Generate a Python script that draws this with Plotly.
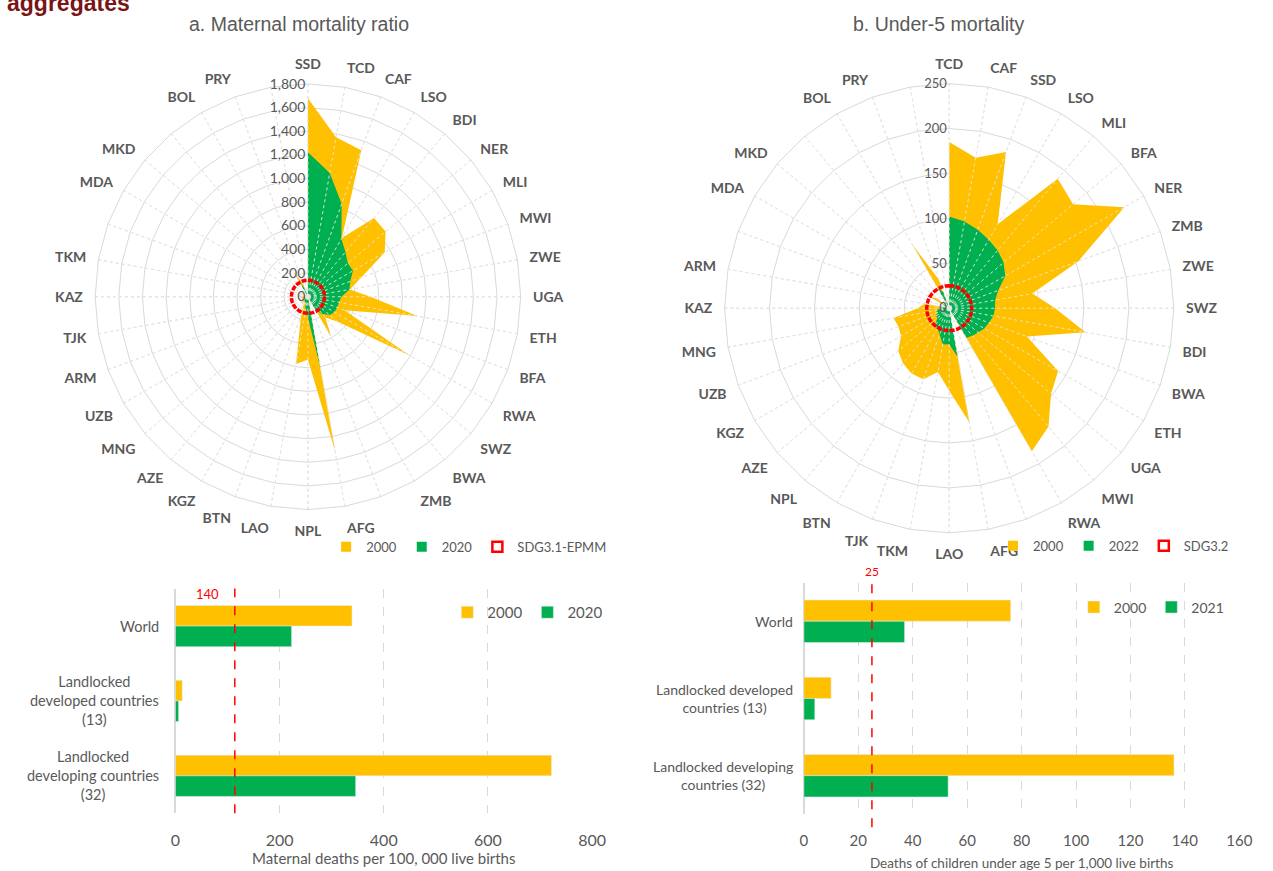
import plotly.graph_objects as go

W, H = 1273, 871

# ---------------- data: panel a (maternal mortality ratio, radar) ----------------
mmr_countries = ["SSD", "TCD", "CAF", "LSO", "BDI", "NER", "MLI", "MWI", "ZWE", "UGA", "ETH", "BFA",
                 "RWA", "SWZ", "BWA", "ZMB", " ", "AFG", "NPL", "LAO", "BTN", "KGZ", "AZE", "MNG",
                 "UZB", "ARM", "TJK", "KAZ", "TKM", "  ", "MDA", "MKD", "   ", "BOL", "PRY", "    "]
mmr_2000 = [1680, 1370, 1320, 575, 870, 858, 750, 480, 360, 530, 940, 330,
            990, 330, 230, 395, 0, 1330, 530, 578, 170, 70, 55, 85,
            40, 40, 60, 65, 30, 0, 40, 12, 0, 260, 110, 0]
mmr_2020 = [1223, 1063, 835, 566, 494, 441, 440, 381, 357, 284, 267, 264,
            259, 240, 186, 135, 0, 620, 174, 126, 60, 50, 41, 39,
            30, 27, 17, 13, 5, 0, 12, 3, 0, 161, 71, 0]
mmr_target = 140
mmr_rmax = 1800

# ---------------- data: panel b (under-5 mortality, radar) ----------------
u5_countries = ["TCD", "CAF", "SSD", "LSO", "MLI", "BFA", "NER", "ZMB", "ZWE", "SWZ", "BDI", "BWA",
                "ETH", "UGA", "MWI", "RWA", " ", "AFG", "LAO", "TKM", "TJK", "BTN", "NPL", "AZE",
                "KGZ", "UZB", "MNG", "KAZ", "ARM", "  ", "MDA", "MKD", "   ", "BOL", "PRY", "    "]
u5_2000 = [185, 170, 185, 108, 188, 180, 225, 153, 94, 118, 154, 92,
           140, 148, 172, 184, 0, 129, 92, 72, 84, 84, 80, 74,
           62, 60, 63, 35, 28, 0, 30, 16, 0, 82, 34, 0]
u5_2022 = [102, 98, 93, 88, 84, 79, 72, 58, 52, 51, 50, 47,
           45, 42, 40, 38, 0, 55, 40, 41, 31, 26, 25, 17,
           17, 14, 15, 9, 11, 0, 14, 5, 0, 26, 19, 0]
u5_target = 25
u5_rmax = 250

# ---------------- data: aggregates (bars) ----------------
agg_groups = ["World", "Landlocked developed countries (13)", "Landlocked developing countries (32)"]
agg_labels_left = ["World", "Landlocked<br>developed countries<br>(13)", "Landlocked<br>developing countries<br>(32)"]
agg_labels_right = ["World", "Landlocked developed<br>countries (13)", "Landlocked developing<br>countries (32)"]
mmr_agg_2000 = [339, 13, 722]
mmr_agg_2020 = [223, 6, 346]
u5_agg_2000 = [76, 10, 136]
u5_agg_2021 = [37, 4, 53]
mmr_line_label = "140"
mmr_line_pos = 114
u5_line_label = "25"
u5_line_pos = 25

YELLOW = "#FFC000"
GREEN = "#00B050"
RED = "#FF0000"
GRID = "#D9D9D9"
TXT = "#595959"
FONT = "Lato"


def px_x(x):
    return x / W


def px_y(y):
    return 1 - y / H


fig = go.Figure()


def add_radar(subplot, cats, s2000, s_new, name_new, target, target_name, rmax, legend):
    closed = cats + [cats[0]]
    fig.add_trace(go.Scatterpolar(r=s2000 + [s2000[0]], theta=closed, subplot=subplot, mode="none",
                                  fill="toself", fillcolor=YELLOW, showlegend=False, name="2000"))
    fig.add_trace(go.Scatterpolar(r=s_new + [s_new[0]], theta=closed, subplot=subplot, mode="none",
                                  fill="toself", fillcolor=GREEN, showlegend=False, name=name_new))
    # spokes drawn over the filled areas (dotted, as in the original)
    sr, st = [], []
    for c in cats:
        sr += [0, rmax, None]
        st += [c, c, None]
    fig.add_trace(go.Scatterpolar(r=sr, theta=st, subplot=subplot, mode="lines",
                                  line=dict(color="rgba(232,232,232,0.9)", width=1, dash="dot"),
                                  showlegend=False, hoverinfo="skip"))
    fig.add_trace(go.Scatterpolar(r=[target] * len(closed), theta=closed, subplot=subplot, mode="lines",
                                  line=dict(color=RED, width=3.5, dash="5px,1.5px"),
                                  showlegend=False, name=target_name))
    fig.add_trace(go.Scatterpolar(r=[0], theta=[cats[0]], subplot=subplot, mode="markers",
                                  marker=dict(color="black", size=9), showlegend=False))
    # legend entries
    for nm, col, line in [("2000", YELLOW, None), (name_new, GREEN, None), (target_name, "white", RED)]:
        fig.add_trace(go.Scatterpolar(r=[None], theta=[None], subplot=subplot, mode="markers", name=nm,
                                      marker=dict(symbol="square", size=10, color=col,
                                                  line=dict(color=line or col, width=2.5 if line else 0)),
                                      legend=legend))


add_radar("polar", mmr_countries, mmr_2000, mmr_2020, "2020", mmr_target, "SDG3.1-EPMM", mmr_rmax, "legend3")
add_radar("polar2", u5_countries, u5_2000, u5_2022, "2022", u5_target, "SDG3.2", u5_rmax, "legend4")

# bars
fig.add_trace(go.Bar(y=agg_groups, x=mmr_agg_2000, orientation="h", name="2000", marker_color=YELLOW,
                     xaxis="x", yaxis="y", legend="legend"))
fig.add_trace(go.Bar(y=agg_groups, x=mmr_agg_2020, orientation="h", name="2020", marker_color=GREEN,
                     xaxis="x", yaxis="y", legend="legend"))
fig.add_trace(go.Bar(y=agg_groups, x=u5_agg_2000, orientation="h", name="2000", marker_color=YELLOW,
                     xaxis="x2", yaxis="y2", legend="legend2"))
fig.add_trace(go.Bar(y=agg_groups, x=u5_agg_2021, orientation="h", name="2021", marker_color=GREEN,
                     xaxis="x2", yaxis="y2", legend="legend2"))


def polar_layout(cx, cy, rad, rmax, dtick, fmt, tsize):
    return dict(
        domain=dict(x=[px_x(cx - rad), px_x(cx + rad)], y=[px_y(cy + rad), px_y(cy - rad)]),
        bgcolor="white",
        gridshape="linear",
        angularaxis=dict(type="category", rotation=90, direction="clockwise",
                         showgrid=True, gridcolor=GRID, griddash="dot", gridwidth=1,
                         showline=True, linecolor=GRID, linewidth=1,
                         ticks="outside", ticklen=9, tickcolor="rgba(0,0,0,0)",
                         tickfont=dict(family=FONT, size=14, color=TXT, weight="bold")),
        radialaxis=dict(range=[0, rmax], dtick=dtick, tickformat=fmt, angle=90, tickangle=90,
                        showline=False, showgrid=True, gridcolor=GRID, gridwidth=1, ticks="",
                        side="counterclockwise",
                        tickfont=dict(family=FONT, size=tsize, color=TXT)),
    )


fig.update_layout(
    height=H, autosize=True,
    margin=dict(l=0, r=0, t=0, b=0),
    paper_bgcolor="white", plot_bgcolor="white",
    font=dict(family=FONT, color=TXT),
    polar=polar_layout(307.5, 298.5, 216, mmr_rmax, 200, ",", 14),
    polar2=polar_layout(958.5, 310, 228, u5_rmax, 50, "d", 13),
    barmode="group", bargap=0.45, bargroupgap=0,
    xaxis=dict(domain=[px_x(173), px_x(596)], range=[0, 800], dtick=200, anchor="y",
               showgrid=True, gridcolor=GRID, griddash="dash", zeroline=True, zerolinecolor=GRID,
               showline=False, ticks="", tickfont=dict(size=16, color=TXT), ticklabelstandoff=16,
               title=dict(text="Maternal deaths per 100, 000 live births", font=dict(size=15, color=TXT),
                          standoff=4)),
    yaxis=dict(domain=[px_y(818), px_y(592)], autorange="reversed", anchor="x",
               showticklabels=False, showgrid=False, zeroline=False, ticks=""),
    xaxis2=dict(domain=[px_x(811), px_x(1253)], range=[0, 160], dtick=20, anchor="y2",
                showgrid=True, gridcolor=GRID, griddash="dash", zeroline=True, zerolinecolor=GRID,
                showline=False, ticks="", tickfont=dict(size=15, color=TXT), ticklabelstandoff=16,
                title=dict(text="Deaths of children under age 5 per 1,000 live births",
                           font=dict(size=13.5, color=TXT), standoff=12)),
    yaxis2=dict(domain=[px_y(819), px_y(586)], autorange="reversed", anchor="x2",
                showticklabels=False, showgrid=False, zeroline=False, ticks=""),
    legend=dict(orientation="h", x=px_x(449), y=px_y(616), xanchor="left", yanchor="middle",
                font=dict(size=15, color=TXT), bgcolor="rgba(0,0,0,0)", itemwidth=30),
    legend2=dict(orientation="h", x=px_x(1085), y=px_y(611), xanchor="left", yanchor="middle",
                 font=dict(size=14, color=TXT), bgcolor="rgba(0,0,0,0)", itemwidth=30),
    legend3=dict(orientation="h", x=px_x(326), y=px_y(550), xanchor="left", yanchor="middle",
                 font=dict(size=13, color=TXT), bgcolor="rgba(0,0,0,0)", itemwidth=30),
    legend4=dict(orientation="h", x=px_x(1003), y=px_y(549), xanchor="left", yanchor="middle",
                 font=dict(size=13, color=TXT), bgcolor="rgba(0,0,0,0)", itemwidth=30),
    showlegend=True,
)

fig.add_shape(type="line", xref="x", yref="paper", x0=mmr_line_pos, x1=mmr_line_pos,
              y0=px_y(818), y1=px_y(592), line=dict(color=RED, width=1.5, dash="dash"))
fig.add_shape(type="line", xref="x2", yref="paper", x0=u5_line_pos, x1=u5_line_pos,
              y0=px_y(832), y1=px_y(583), line=dict(color=RED, width=1.5, dash="dash"))

ann = []
ann.append(dict(text=mmr_line_label, x=mmr_line_pos, xref="x", y=px_y(597), yref="paper",
                xanchor="right", yanchor="middle", xshift=-14, showarrow=False,
                font=dict(size=13, color=RED)))
ann.append(dict(text=u5_line_label, x=u5_line_pos, xref="x2", y=px_y(575), yref="paper",
                xanchor="center", yanchor="middle", showarrow=False, font=dict(size=12, color=RED)))
for g, lab in zip(agg_groups, agg_labels_left):
    ann.append(dict(text=lab, x=px_x(158), xref="paper", y=g, yref="y", xanchor="right",
                    yanchor="middle", align="center", showarrow=False,
                    font=dict(size=14.5, color=TXT)))
for g, lab in zip(agg_groups, agg_labels_right):
    ann.append(dict(text=lab, x=px_x(802), xref="paper", y=g, yref="y2", xanchor="right",
                    yanchor="middle", align="center", showarrow=False,
                    font=dict(size=14, color=TXT)))
ann.append(dict(text="a. Maternal mortality ratio", x=px_x(298), y=px_y(24), xref="paper", yref="paper",
                xanchor="center", yanchor="middle", showarrow=False,
                font=dict(family="Liberation Sans", size=19.5, color=TXT)))
ann.append(dict(text="b. Under-5 mortality", x=px_x(948), y=px_y(24), xref="paper", yref="paper",
                xanchor="center", yanchor="middle", showarrow=False,
                font=dict(family="Liberation Sans", size=19.5, color=TXT)))
ann.append(dict(text="<b>aggregates</b>", x=0, y=px_y(3), xref="paper", yref="paper",
                xanchor="left", yanchor="middle", showarrow=False,
                font=dict(family="Liberation Sans", size=23, color="#7B1416")))
fig.update_layout(annotations=ann)

post = ("document.body.style.margin='0px';document.body.style.overflow='hidden';"
        "var gd=document.getElementById('{plot_id}');"
        "Plotly.Plots.resize(gd);")
fig.write_html("out.html", config={"displayModeBar": False, "responsive": True},
               default_width="100%", post_script=post)
